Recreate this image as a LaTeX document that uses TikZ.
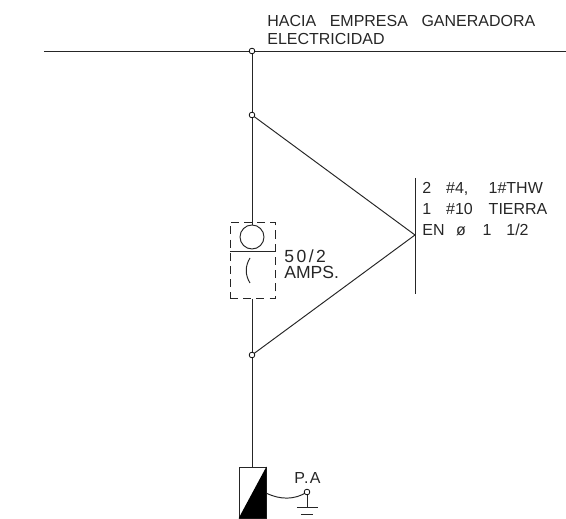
\documentclass[tikz,border=0pt]{standalone}
\usepackage{fontspec}
\setmainfont{Liberation Sans}
\usetikzlibrary{positioning}
\tikzset{
  wire/.style={line width=0.55pt,black!85},
  junction/.style={circle,draw,fill=white,inner sep=0pt,minimum size=3.2pt,line width=0.45pt},
  label/.style={anchor=base west,inner sep=0pt,font=\fontsize{9.1}{10}\selectfont,black!85},
  biglabel/.style={label,font=\fontsize{10}{10}\selectfont}
}
\begin{document}
\begin{tikzpicture}[x=0.02cm,y=-0.02cm]
  \useasboundingbox (0,0) rectangle (566,519);
  \draw
    (44,51) coordinate (busL)
    (566,51) coordinate (busR)
    (252,115) coordinate (tapT)
    (252,355) coordinate (tapB)
    (415,235) coordinate (apex)
    (415,178) coordinate (rackT)
    (415,294) coordinate (rackB)
    (252,51) coordinate (busJ)
    (252,299) coordinate (boxB)
    (252,467) coordinate (meterT)
    (266,493) coordinate (meterR)
    (307,492) coordinate (gnd)
    (307,507) coordinate (earth)
    (230,251) coordinate (breakL)
    (275,251) coordinate (breakR);
  \node[draw,wire,circle,minimum size=0.48cm,inner sep=0pt] (disc) at (252,237) {};
  \node[draw,wire,minimum width=0.9cm,minimum height=1.54cm,inner sep=0pt,dash pattern=on 4.6pt off 2.9pt] (box) at (252.5,260.5) {};
  \node[draw,wire,minimum width=0.54cm,minimum height=1.02cm,inner sep=0pt] (meter) at (252.5,492.5) {};
  \begin{scope}[wire]
    \draw (busL) to (busR);
    \draw (busJ) to (tapT);
    \draw (tapT) to (disc.north);
    \draw (boxB) to (tapB);
    \draw (tapB) to (meterT);
    \draw (tapT) to (apex);
    \draw (tapB) to (apex);
    \draw (rackT) to (rackB);
    \draw (breakL) to (breakR);
    \draw (meterR) .. controls (280,500) and (295,500) .. (gnd);
    \draw (gnd) to (earth);
    \draw (297,507) -- (318,507);
    \draw (301,514) -- (313,514);
    \draw (250,258) .. controls (245,266) and (245,275) .. (250,283);
    \fill[black] (meter.north east) -- (meter.south east) -- (meter.south west) -- cycle;
  \end{scope}
  \node[junction] (n0) at (busJ) {};
  \node[junction] (n1) at (tapT) {};
  \node[junction] (n2) at (tapB) {};
  \node[junction] (n3) at (gnd) {};
  \node[label] (t0) at (267,27) {HACIA\hspace{5.2pt} EMPRESA\hspace{5.2pt} GANERADORA};
  \node[label] (t1) at (267,45) {ELECTRICIDAD};
  \node[label] (t2) at (422,194) {2\hspace{6pt} \#4,\hspace{9pt} 1\#THW};
  \node[label] (t3) at (422,215) {1\hspace{6pt} \#10\hspace{6.5pt} TIERRA};
  \node[label] (t4) at (422,236) {EN\hspace{4pt} ø\hspace{7pt} 1\hspace{6pt} 1/2};
  \node[biglabel] (t5) at (284,263) {\addfontfeature{LetterSpace=14}50/2};
  \node[biglabel] (t6) at (284,279) {AMPS.};
  \node[label] (t7) at (294,484) {\addfontfeature{LetterSpace=8}P.A};
\end{tikzpicture}
\end{document}
